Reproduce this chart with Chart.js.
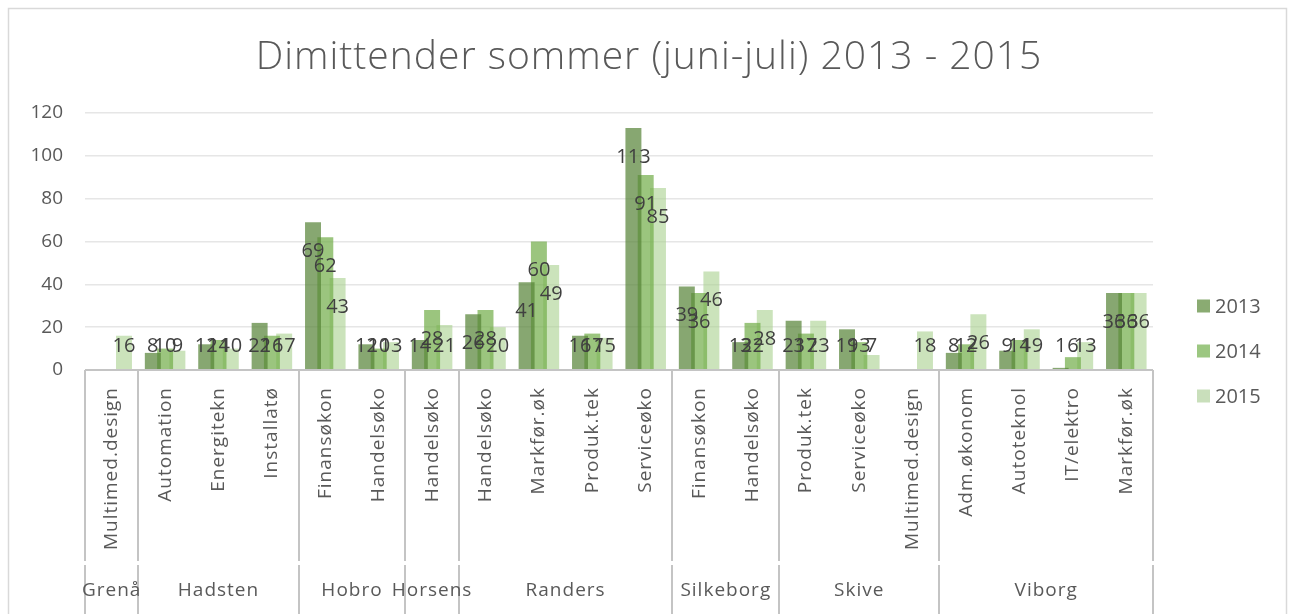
<!DOCTYPE html>
<html>
<head>
<meta charset="utf-8">
<title>Dimittender sommer (juni-juli) 2013 - 2015</title>
<script src="https://cdn.jsdelivr.net/npm/chart.js@4.4.0/dist/chart.umd.min.js"></script>
<style>
    html, body { margin: 0; padding: 0; background: #fff; }
    #wrap { width: 1290px; height: 614px; }
</style>
</head>
<body>
<div id="wrap"><canvas id="dimChart" width="1290" height="614"></canvas></div>
<script>
// Data
const titleText = 'Dimittender sommer (juni-juli) 2013 - 2015';
const schools = ['Grenå', 'Hadsten', 'Hobro', 'Horsens', 'Randers', 'Silkeborg', 'Skive', 'Viborg'];
const schoolSizes = [1, 3, 2, 1, 4, 2, 3, 4];
const educations = ['Multimed.design', 'Automation', 'Energitekn', 'Installatø', 'Finansøkon', 'Handelsøko',
    'Handelsøko', 'Handelsøko', 'Markfør.øk', 'Produk.tek', 'Serviceøko', 'Finansøkon', 'Handelsøko',
    'Produk.tek', 'Serviceøko', 'Multimed.design', 'Adm.økonom', 'Autoteknol', 'IT/elektro', 'Markfør.øk'];
const years = ['2013', '2014', '2015'];
const grads2013 = [null, 8, 12, 22, 69, 12, 14, 26, 41, 16, 113, 39, 13, 23, 19, null, 8, 9, 1, 36];
const grads2014 = [null, 10, 14, 16, 62, 10, 28, 28, 60, 17, 91, 36, 22, 17, 13, null, 12, 14, 6, 36];
const grads2015 = [16, 9, 10, 17, 43, 13, 21, 20, 49, 15, 85, 46, 28, 23, 7, 18, 26, 19, 13, 36];
const yTicks = [0, 20, 40, 60, 80, 100, 120];

const barColors = ['rgba(84,130,53,0.7)', 'rgba(112,173,71,0.7)', 'rgba(169,209,142,0.6)'];
const legendColors = ['#8aab72', '#9cc781', '#c9dfbb'];
const textGrey = '#595959';
const labelGrey = '#404040';
const lineGrey = '#c4c4c4';

// tegner titel, ramme, x-akse med to niveauer og legende
const decorPlugin = {
    id: 'decor',
    beforeDraw(chart) {
        const ctx = chart.ctx;
        ctx.save();
        ctx.fillStyle = '#fff';
        ctx.fillRect(0, 0, chart.width, chart.height);
        ctx.strokeStyle = '#d9d9d9';
        ctx.lineWidth = 1.5;
        ctx.strokeRect(8.5, 8.5, 1278, 620);
        ctx.restore();
    },
    afterDatasetsDraw(chart) {
        const ctx = chart.ctx;
        const yScale = chart.scales.y;
        const floor = yScale.getPixelForValue(0) - 24;
        ctx.save();
        ctx.font = '20px "Open Sans"';
        ctx.fillStyle = labelGrey;
        ctx.textAlign = 'center';
        ctx.textBaseline = 'middle';
        chart.data.datasets.forEach((ds, di) => {
            const meta = chart.getDatasetMeta(di);
            meta.data.forEach((bar, i) => {
                const v = ds.data[i];
                if (v === null) return;
                const y = Math.min(yScale.getPixelForValue(v) + 29, floor);
                ctx.fillText(String(v), bar.x, y);
            });
        });
        ctx.restore();
    },
    afterDraw(chart) {
        const ctx = chart.ctx;
        const xs = chart.scales.x;
        const area = chart.chartArea;
        const catW = (xs.right - xs.left) / educations.length;
        ctx.save();

        // titel
        ctx.font = '300 39px "Open Sans"';
        ctx.letterSpacing = '1px';
        ctx.fillStyle = textGrey;
        ctx.textAlign = 'center';
        ctx.textBaseline = 'middle';
        ctx.fillText(titleText, 649, 58);

        // akselinje
        ctx.strokeStyle = lineGrey;
        ctx.lineWidth = 2;
        ctx.beginPath();
        ctx.moveTo(area.left, area.bottom);
        ctx.lineTo(area.right, area.bottom);
        ctx.stroke();

        // skillelinjer mellem skoler
        let start = 0;
        const bounds = [0];
        schoolSizes.forEach(n => { start += n; bounds.push(start); });
        bounds.forEach(b => {
            const x = Math.round(xs.left + b * catW);
            ctx.beginPath();
            ctx.moveTo(x, area.bottom);
            ctx.lineTo(x, 561);
            ctx.moveTo(x, 565);
            ctx.lineTo(x, chart.height);
            ctx.stroke();
        });

        // uddannelser, lodret tekst
        ctx.fillStyle = textGrey;
        ctx.font = '19px "Open Sans"';
        ctx.letterSpacing = '1px';
        educations.forEach((name, i) => {
            const x = xs.getPixelForValue(i);
            ctx.save();
            ctx.translate(x, 387);
            ctx.rotate(-Math.PI / 2);
            ctx.textAlign = 'right';
            ctx.textBaseline = 'middle';
            ctx.fillText(name, 0, 0);
            ctx.restore();
        });

        // skolenavne
        ctx.textAlign = 'center';
        ctx.textBaseline = 'middle';
        schools.forEach((s, k) => {
            const cx = xs.left + (bounds[k] + bounds[k + 1]) / 2 * catW;
            ctx.fillText(s, cx, 591);
        });

        // legende
        ctx.letterSpacing = '0px';
        ctx.font = '20px "Open Sans"';
        ctx.textAlign = 'left';
        years.forEach((yr, k) => {
            const cy = 306 + k * 45;
            ctx.fillStyle = legendColors[k];
            ctx.fillRect(1197, cy - 6.5, 13, 13);
            ctx.fillStyle = textGrey;
            ctx.fillText(yr, 1215, cy + 1);
        });
        ctx.restore();
    }
};

const seriesData = [grads2013, grads2014, grads2015];

new Chart(document.getElementById('dimChart'), {
    type: 'bar',
    data: {
        labels: educations,
        datasets: years.map((yr, k) => ({
            label: yr,
            data: seriesData[k],
            backgroundColor: barColors[k],
            borderWidth: 0,
            categoryPercentage: 0.69,
            barPercentage: 1.3
        }))
    },
    options: {
        responsive: false,
        devicePixelRatio: 1,
        animation: false,
        layout: { padding: { top: 113, right: 137, bottom: 0, left: 0 } },
        plugins: {
            legend: { display: false },
            title: { display: false },
            tooltip: { enabled: false }
        },
        scales: {
            x: {
                offset: true,
                grid: { display: false },
                border: { display: false },
                ticks: { display: false },
                afterFit(scale) { scale.height = 244; }
            },
            y: {
                min: 0,
                max: 120,
                afterBuildTicks(scale) { scale.ticks = yTicks.map(v => ({ value: v })); },
                afterFit(scale) { scale.width = 85; },
                border: { display: false },
                grid: { color: '#e6e6e6', lineWidth: 1.5, drawTicks: false },
                ticks: {
                    padding: 22,
                    color: textGrey,
                    font: { family: 'Open Sans', size: 19 }
                }
            }
        }
    },
    plugins: [decorPlugin]
});
</script>
</body>
</html>
